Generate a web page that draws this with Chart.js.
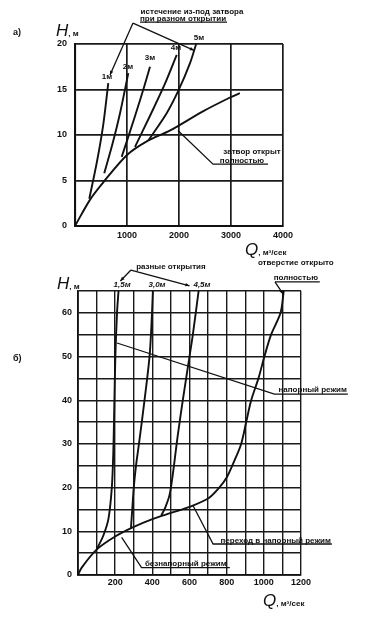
<!DOCTYPE html>
<html>
<head>
<meta charset="utf-8">
<script src="https://cdn.jsdelivr.net/npm/chart.js@4"></script>
<style>
  body { margin: 0; background: #fff; }
  #wrap { position: relative; width: 377px; height: 624px; overflow: hidden; font-family: "Liberation Sans", Arial, sans-serif; color: #111; }
  canvas { position: absolute; left: 0; }
  .lbl { position: absolute; font-weight: bold; font-size: 9px; }
  .ax { position: absolute; line-height: 1; white-space: nowrap; }
  .ax i { font-size: 17px; font-style: italic; }
  .ax b { font-size: 8px; }
</style>
</head>
<body>
<div id="wrap">
  <canvas id="chartA" width="377" height="250" style="top:0"></canvas>
  <canvas id="chartB" width="377" height="374" style="top:250px"></canvas>
  <div class="lbl" style="left:13px;top:27px">а)</div>
  <div class="ax" style="left:56px;top:22px"><i>H</i><b>, м</b></div>
  <div class="ax" style="left:245px;top:241px"><i>Q</i><b>, м³/сек</b></div>
  <div class="lbl" style="left:13px;top:353px">б)</div>
  <div class="ax" style="left:57px;top:275px"><i>H</i><b>, м</b></div>
  <div class="ax" style="left:263px;top:592px"><i>Q</i><b>, м³/сек</b></div>
</div>
<script>
// а) Q, м3/сек vs H, м
const openA  = [[0,0],[290,2.9],[544,4.8],[1000,7.8],[1380,9.3],[1830,10.5],[2460,12.6],[3010,14.2],[3170,14.6]];
const gate1A = [[275,3.0],[420,7.0],[540,11.0],[640,15.7]];
const gate2A = [[563,5.8],[720,9.0],[870,12.5],[1025,16.8]];
const gate3A = [[898,7.6],[1150,12.0],[1330,15.3],[1442,17.5]];
const gate4A = [[1154,8.7],[1450,12.2],[1720,15.5],[1956,18.8]];
const gate5A = [[1410,9.4],[1763,12.4],[1990,14.9],[2212,17.9],[2330,20]];

// б) Q, м3/сек vs H, м
const openB   = [[0,0],[20,1.7],[100,5.8],[200,8.8],[300,11],[400,12.8],[500,14.2],[600,15.6],[700,17.5],[760,20],[800,22.3],[840,26],[878,30],[905,35],[932,40],[971,45],[1003,50],[1039,55],[1090,60],[1107,65]];
const gate15B = [[100,5.8],[137,9.1],[164,12.9],[182,20],[190,28],[195,38],[201,50],[210,60],[218,65]];
const gate30B = [[285,10.8],[292,15],[300,20],[312,25],[328,30],[358,40],[385,50],[395,57],[403,65]];
const gate45B = [[448,13.6],[470,15.5],[493,18.4],[510,23],[525,28],[537,32],[564,40],[600,50],[618,55],[649,65]];

const ticksA = { x: [0, 4000, 1000], y: [0, 20, 5] };
const ticksB = { x: [0, 1200, 100], y: [0, 65, 5] };

// подписи и выноски (в координатах графика)
const notesA = {
  leaders: [
    { pts: [[1115,22.3],[673,16.6]], arrow: true },
    { pts: [[1115,22.3],[2288,19.3]], arrow: true },
    { pts: [[1250,22.4],[2923,22.4]] },
    { pts: [[1980,10.5],[2654,6.8],[3712,6.8]] }
  ],
  texts: [
    { t: 'истечение из-под затвора', at: [2250,23.5] },
    { t: 'при разном открытии', at: [2077,22.75] },
    { t: '1м', at: [615,16.4] },
    { t: '2м', at: [1019,17.5] },
    { t: '3м', at: [1442,18.5] },
    { t: '4м', at: [1942,19.6] },
    { t: '5м', at: [2385,20.7] },
    { t: 'затвор открыт', at: [3404,8.1] },
    { t: 'полностью', at: [3212,7.2] }
  ]
};
const notesB = {
  leaders: [
    { pts: [[285,69.8],[228,67.3]], arrow: true },
    { pts: [[285,69.8],[600,66.2]], arrow: true },
    { pts: [[1060,67.1],[1301,67.1]] },
    { pts: [[1060,67.1],[1104,64.3]], arrow: true },
    { pts: [[210,53.1],[1057,41.4],[1452,41.4]] },
    { pts: [[620,15.8],[727,7.1],[1366,7.1]] },
    { pts: [[235,8.6],[342,1.7],[817,1.7]] }
  ],
  texts: [
    { t: 'разные открытия', at: [500,70.6] },
    { t: '1,5м', at: [237,66.5], it: true },
    { t: '3,0м', at: [425,66.5], it: true },
    { t: '4,5м', at: [667,66.5], it: true },
    { t: 'отверстие открыто', at: [1172,71.4] },
    { t: 'полностью', at: [1172,68.1] },
    { t: 'напорный режим', at: [1263,42.3] },
    { t: 'переход в напорный режим', at: [1064,7.9] },
    { t: 'безнапорный режим', at: [580,2.5] }
  ]
};

function arrowhead(ctx, from, to) {
  const a = Math.atan2(to[1] - from[1], to[0] - from[0]);
  const s = 4.5;
  ctx.beginPath();
  ctx.moveTo(to[0], to[1]);
  ctx.lineTo(to[0] - s * Math.cos(a - 0.4), to[1] - s * Math.sin(a - 0.4));
  ctx.lineTo(to[0] - s * Math.cos(a + 0.4), to[1] - s * Math.sin(a + 0.4));
  ctx.closePath();
  ctx.fill();
}

function annotator(notes) {
  return {
    id: 'notes',
    afterDatasetsDraw(chart) {
      const ctx = chart.ctx, sx = chart.scales.x, sy = chart.scales.y;
      const px = p => [sx.getPixelForValue(p[0]), sy.getPixelForValue(p[1])];
      ctx.save();
      ctx.strokeStyle = '#111';
      ctx.fillStyle = '#111';
      ctx.lineWidth = 1.3;
      notes.leaders.forEach(l => {
        const pts = l.pts.map(px);
        ctx.beginPath();
        pts.forEach((p, i) => i ? ctx.lineTo(p[0], p[1]) : ctx.moveTo(p[0], p[1]));
        ctx.stroke();
        if (l.arrow) arrowhead(ctx, pts[pts.length - 2], pts[pts.length - 1]);
      });
      ctx.textAlign = 'center';
      ctx.textBaseline = 'middle';
      notes.texts.forEach(n => {
        ctx.font = (n.it ? 'italic ' : '') + 'bold 8px "Liberation Sans", Arial, sans-serif';
        const p = px(n.at);
        ctx.fillText(n.t, p[0], p[1]);
      });
      ctx.restore();
    }
  };
}

function curve(data) {
  return {
    data: data.map(p => ({ x: p[0], y: p[1] })),
    showLine: true,
    borderColor: '#111',
    borderWidth: 1.9,
    pointRadius: 0,
    tension: 0.3,
    clip: false
  };
}

const tickFont = { family: 'Liberation Sans', weight: 'bold', size: 9 };

function makeChart(id, series, t, pad, gridW, xLabel, yLabel, xPad, yPad, notes) {
  return new Chart(document.getElementById(id), {
    type: 'scatter',
    data: { datasets: series.map(curve) },
    options: {
      responsive: false,
      animation: false,
      devicePixelRatio: 1,
      layout: { padding: pad },
      plugins: { legend: { display: false }, tooltip: { enabled: false } },
      scales: {
        x: {
          type: 'linear', min: t.x[0], max: t.x[1],
          ticks: { stepSize: t.x[2], autoSkip: false, maxRotation: 0, padding: xPad, color: '#111', font: tickFont, callback: xLabel },
          grid: { color: '#1a1a1a', lineWidth: gridW, drawTicks: false },
          border: { color: '#111', width: gridW + 0.4 },
          afterFit(s) { s.height = 20; s.paddingLeft = 0; s.paddingRight = 0; }
        },
        y: {
          type: 'linear', min: t.y[0], max: t.y[1],
          ticks: { stepSize: t.y[2], autoSkip: false, padding: yPad, color: '#111', font: tickFont, callback: yLabel },
          grid: { color: '#1a1a1a', lineWidth: gridW, drawTicks: false },
          border: { color: '#111', width: gridW + 0.4 },
          afterFit(s) { s.width = 35; s.paddingTop = 0; s.paddingBottom = 0; }
        }
      }
    },
    plugins: [annotator(notes)]
  });
}

makeChart('chartA', [openA, gate1A, gate2A, gate3A, gate4A, gate5A], ticksA,
  { left: 40, right: 94, top: 44, bottom: 4 }, 1.7,
  v => v === 0 ? '' : String(v), v => String(v), 4, 8, notesA);

makeChart('chartB', [openB, gate15B, gate30B, gate45B], ticksB,
  { left: 43, right: 76, top: 41, bottom: 29 }, 1.4,
  v => (v !== 0 && v % 200 === 0) ? String(v) : '', v => v % 10 === 0 ? String(v) : '', 2, 6, notesB);
</script>
</body>
</html>
